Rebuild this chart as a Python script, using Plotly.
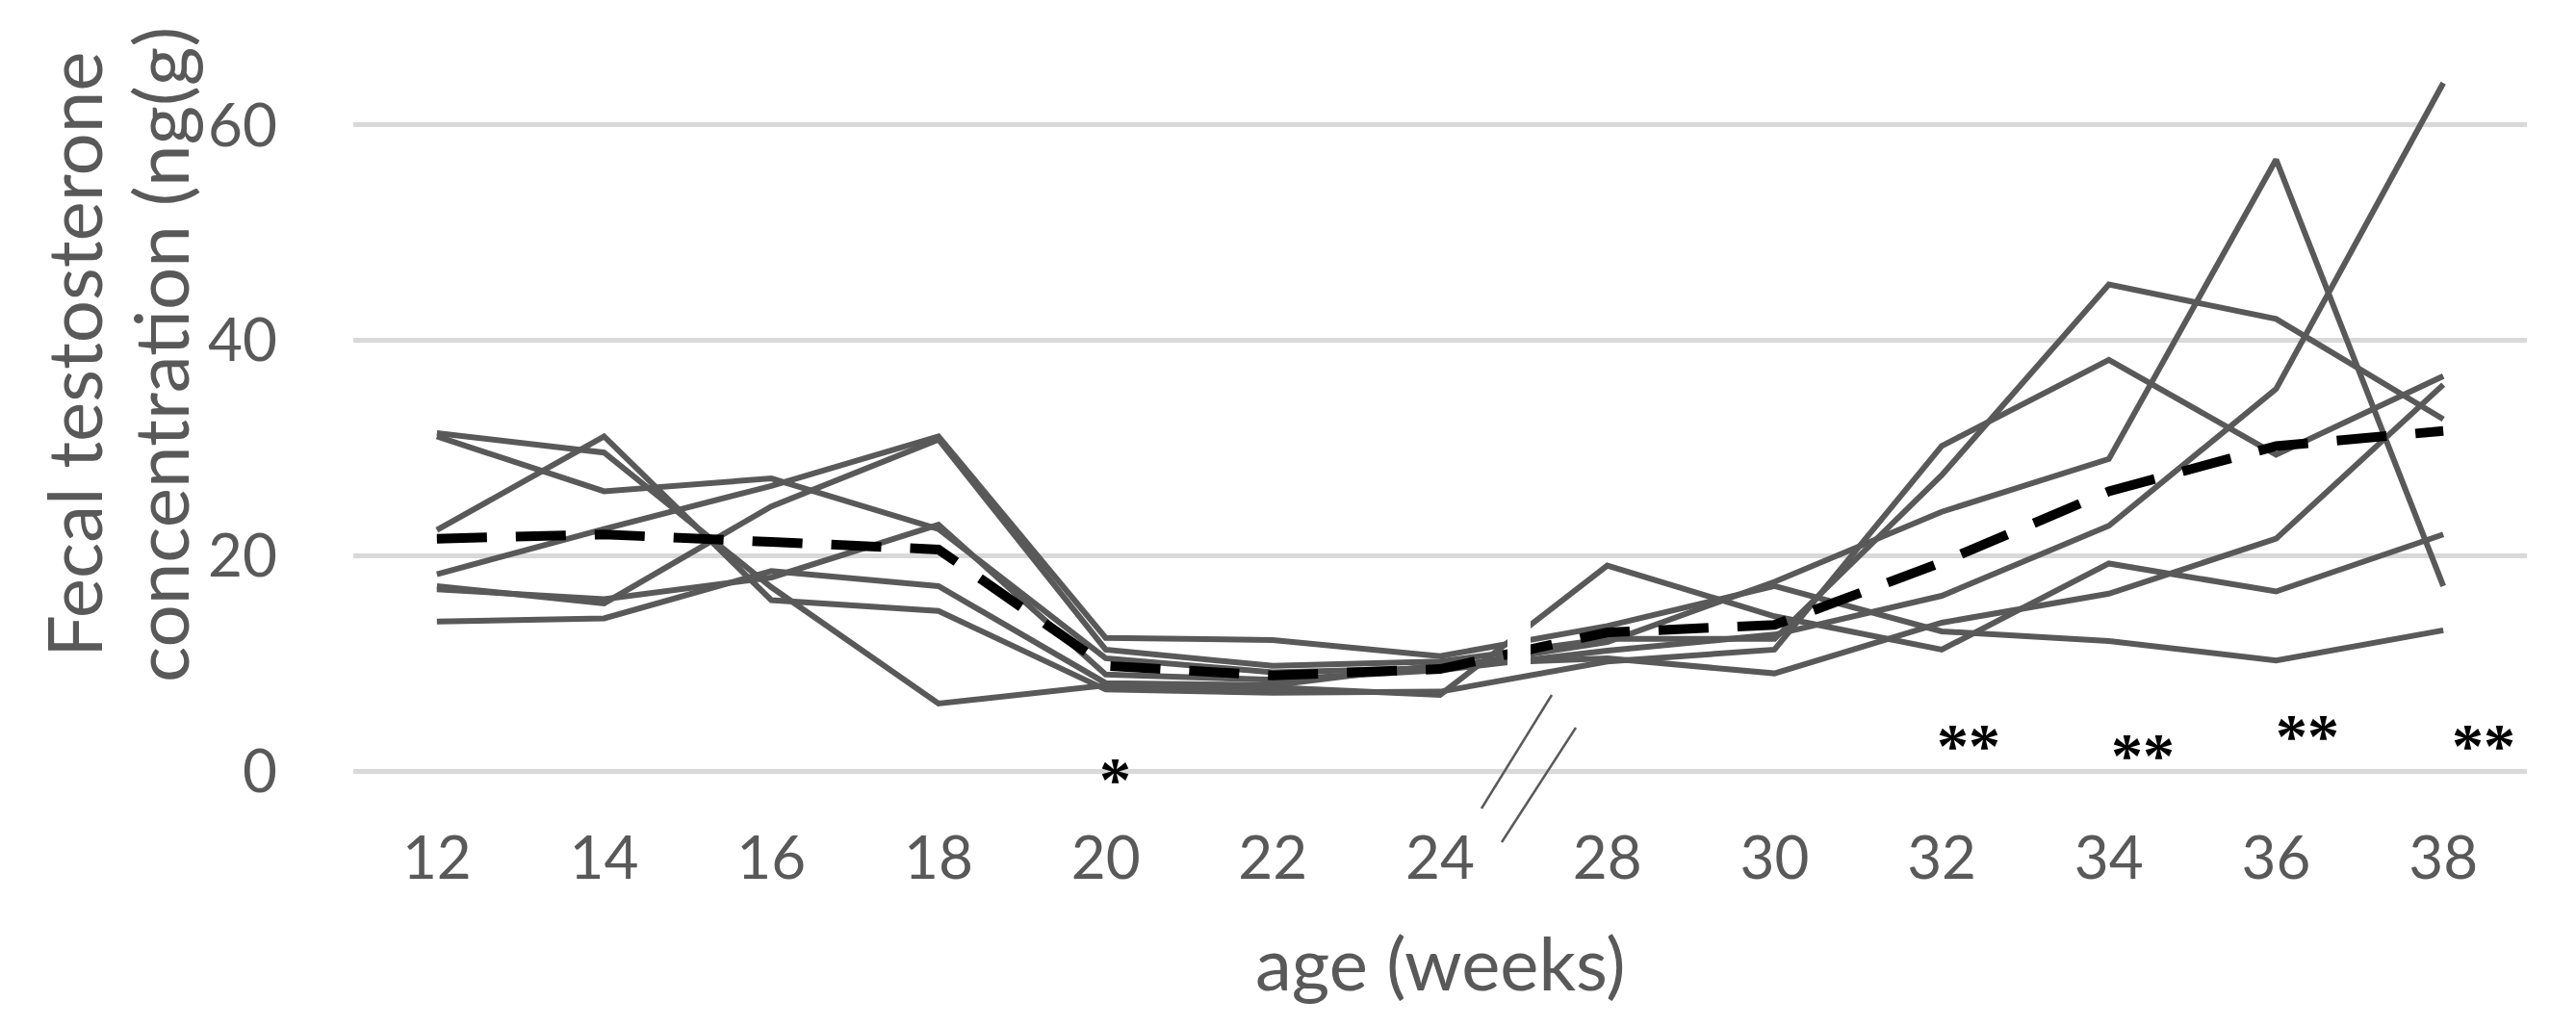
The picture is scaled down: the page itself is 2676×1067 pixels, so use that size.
import plotly.graph_objects as go

# ---------------- data ----------------
weeks = ["12", "14", "16", "18", "20", "22", "24", "28", "30", "32", "34", "36", "38"]

ind1 = [31.4, 29.6, 17.1, 6.3, 8.0, 7.8, 7.1, 19.1, 14.4, 11.3, 19.3, 16.7, 22.0]
ind2 = [31.1, 26.0, 27.2, 22.5, 10.5, 9.2, 9.6, 12.0, 17.6, 24.1, 29.0, 56.8, 17.2]
ind3 = [22.4, 31.1, 15.9, 14.9, 7.6, 7.3, 7.4, 10.2, 11.3, 30.2, 38.2, 29.4, 36.7]
ind4 = [18.3, 22.5, 26.5, 31.1, 12.4, 12.2, 10.7, 13.5, 17.2, 13.0, 12.1, 10.3, 13.1]
ind5 = [17.2, 15.6, 24.6, 30.8, 11.3, 9.8, 10.2, 12.3, 12.3, 27.5, 45.2, 42.0, 32.7]
ind6 = [16.9, 16.0, 18.0, 22.9, 9.0, 8.5, 9.4, 11.2, 12.7, 16.3, 22.8, 35.5, 63.9]
ind7 = [13.9, 14.2, 18.6, 17.2, 8.2, 8.0, 9.9, 10.5, 9.1, 13.8, 16.5, 21.6, 35.9]
individuals = [ind1, ind2, ind3, ind4, ind5, ind6, ind7]

mean_values = [21.6, 22.0, 21.3, 20.6, 9.8, 8.9, 9.5, 12.9, 13.6, 19.4, 26.0, 30.2, 31.6]

y_ticks = [0, 20, 40, 60]

sig_weeks = ["20", "32", "34", "36", "38"]
sig_marks = ["*", "**", "**", "**", "**"]
sig_level = [0.0, 3.1, 2.2, 4.0, 3.1]

# ---------------- layout geometry ----------------
W, H = 2676, 1067
L, R, T, B = 367, 51, 18, 265
PW, PH = W - L - R, H - T - B

def px_x(px):
    return (px - L) / PW

def px_y(py):
    return (H - B - py) / PH

GREY = "#595959"
FONT = "Lato"

fig = go.Figure()

for vals in individuals:
    fig.add_trace(go.Scatter(
        x=weeks, y=vals, mode="lines",
        line=dict(color=GREY, width=6),
        hoverinfo="skip",
    ))

fig.add_trace(go.Scatter(
    x=weeks, y=mean_values, mode="lines",
    line=dict(color="black", width=10, dash="52px,30px"),
    hoverinfo="skip",
))

shapes = []
# white gap marking the axis break between 24 and 28
shapes.append(dict(type="rect", xref="paper", yref="y",
                   x0=px_x(1566), x1=px_x(1590), y0=9.4, y1=14.6,
                   fillcolor="white", line=dict(width=0), layer="above"))
# the two slanted break marks
for (xa, ya, xb, yb) in [(1612, 722, 1539, 840), (1637, 756, 1560, 875)]:
    shapes.append(dict(type="line", xref="paper", yref="paper",
                       x0=px_x(xa), y0=px_y(ya), x1=px_x(xb), y1=px_y(yb),
                       line=dict(color=GREY, width=2.5), layer="above"))

annotations = []
sig_shift = [10, 28, 35, 33, 42]
for wk, mk, lv, sh in zip(sig_weeks, sig_marks, sig_level, sig_shift):
    annotations.append(dict(
        x=weeks.index(wk), y=lv, xref="x", yref="y", text="<b>" + mk + "</b>",
        showarrow=False, xanchor="center", yanchor="middle", xshift=sh, yshift=-8,
        font=dict(family="Liberation Serif", size=66, color="black"),
    ))

# y-axis title, two lines placed separately
for txt, cx in [("Fecal testosterone", 76), ("concentration (ng(g)", 166)]:
    annotations.append(dict(
        x=px_x(cx), y=px_y(369), xref="paper", yref="paper",
        text=txt, textangle=-90, showarrow=False,
        xanchor="center", yanchor="middle",
        font=dict(family=FONT, size=78, color=GREY),
    ))

annotations.append(dict(
    x=0.5, y=px_y(1000), xref="paper", yref="paper",
    text="age (weeks)", showarrow=False, xanchor="center", yanchor="middle",
    font=dict(family=FONT, size=76, color=GREY),
))

fig.update_layout(
    width=W, height=H,
    margin=dict(l=L, r=R, t=T, b=B, pad=0),
    paper_bgcolor="white", plot_bgcolor="white",
    showlegend=False,
    font=dict(family=FONT, color=GREY),
    shapes=shapes, annotations=annotations,
    xaxis=dict(
        type="category", categoryorder="array", categoryarray=weeks,
        range=[-0.5, len(weeks) - 0.5],
        showgrid=False, showline=False, zeroline=False, ticks="",
        tickfont=dict(family=FONT, size=62, color=GREY),
        ticklabelstandoff=48,
    ),
    yaxis=dict(
        range=[-0.05, 70], tickvals=y_ticks,
        showgrid=True, gridcolor="#d9d9d9", gridwidth=5,
        zeroline=True, zerolinecolor="#d9d9d9", zerolinewidth=5,
        showline=False, ticks="",
        tickfont=dict(family=FONT, size=62, color=GREY),
        ticklabelstandoff=78,
    ),
)

fig.write_html("out.html", config={"displayModeBar": False},
               post_script="document.body.style.margin='0';document.body.style.overflow='hidden';")
